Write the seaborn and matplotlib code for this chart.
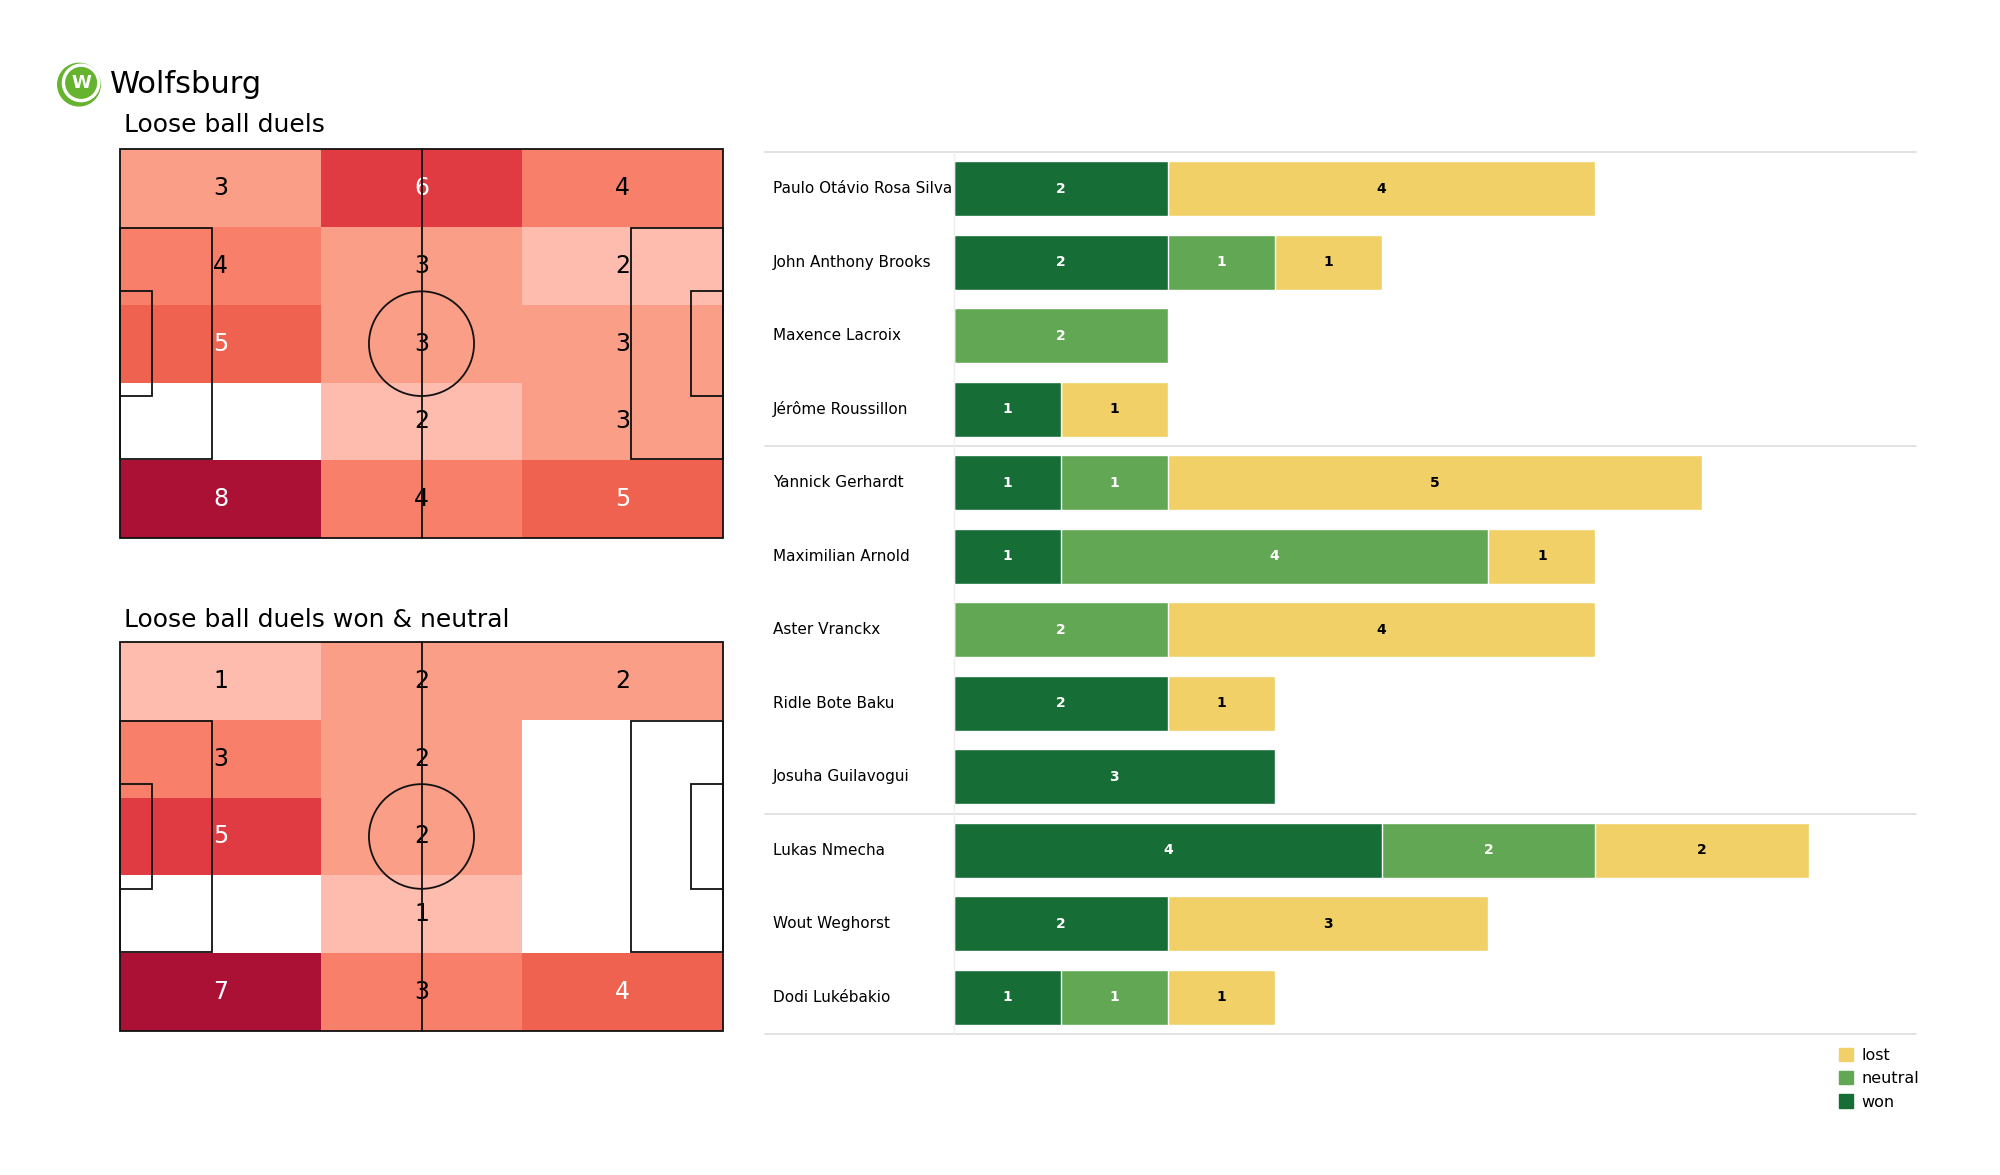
import numpy as np
import pandas as pd
import matplotlib
matplotlib.use("Agg")
import matplotlib.pyplot as plt
import seaborn as sns
from matplotlib.colors import ListedColormap, BoundaryNorm
from matplotlib.patches import Rectangle, Ellipse, Circle, Patch

# heatmap grids (5 rows from top touchline to bottom, 3 columns left to right)
duels = [[3, 6, 4],
         [4, 3, 2],
         [5, 3, 3],
         [0, 2, 3],
         [8, 4, 5]]
duels_won_neutral = [[1, 2, 2],
                     [3, 2, 0],
                     [5, 2, 0],
                     [0, 1, 0],
                     [7, 3, 4]]

# per player duels
players = ["Paulo Otávio Rosa Silva", "John Anthony Brooks", "Maxence Lacroix",
           "Jérôme Roussillon", "Yannick Gerhardt", "Maximilian Arnold",
           "Aster Vranckx", "Ridle Bote Baku", "Josuha Guilavogui",
           "Lukas Nmecha", "Wout Weghorst", "Dodi Lukébakio"]
won = [2, 2, 0, 1, 1, 1, 0, 2, 3, 4, 2, 1]
neutral = [0, 1, 2, 0, 1, 4, 2, 0, 0, 2, 0, 1]
lost = [4, 1, 0, 1, 5, 1, 4, 1, 0, 2, 3, 1]
group_breaks = [4, 9]

heat_colors = ["#ffffff", "#fdbcae", "#fa9e88", "#f8806a", "#f06250", "#e03b42", "#ab1035"]
won_color = "#166d36"
neutral_color = "#62a854"
lost_color = "#f0d067"

sns.set_style("white")
plt.rcParams["font.family"] = ["DejaVu Sans"]
plt.rcParams["text.color"] = "black"

fig = plt.figure(figsize=(20, 11.75), dpi=100)


def draw_pitch_heatmap(ax, grid):
    data = np.array(grid)
    levels = np.unique(data)
    bounds = np.concatenate([[levels[0] - 0.5], (levels[:-1] + levels[1:]) / 2, [levels[-1] + 0.5]])
    cmap = ListedColormap(heat_colors[:len(levels)])
    norm = BoundaryNorm(bounds, cmap.N)
    sns.heatmap(pd.DataFrame(data), ax=ax, cmap=cmap, norm=norm, cbar=False,
                xticklabels=False, yticklabels=False, linewidths=0)
    for r in range(data.shape[0]):
        for c in range(data.shape[1]):
            v = data[r, c]
            if v == 0:
                continue
            rank = np.searchsorted(levels, v)
            ax.text(c + 0.5, r + 0.5, str(v), ha="center", va="center", fontsize=17,
                    color="white" if rank >= 4 else "black")
    # pitch markings in cell coordinates
    sx, sy = 3 / 105, 5 / 68
    kw = dict(fill=False, ec="#111111", lw=1.3, clip_on=False, zorder=3)
    ax.add_patch(Rectangle((0, 0), 105 * sx, 68 * sy, **kw))
    ax.plot([52.5 * sx, 52.5 * sx], [0, 68 * sy], color="#111111", lw=1.3, zorder=3, clip_on=False)
    ax.add_patch(Ellipse((52.5 * sx, 34 * sy), 2 * 9.15 * sx, 2 * 9.15 * sy, **kw))
    for x0, w in [(0, 16), (89, 16)]:
        ax.add_patch(Rectangle((x0 * sx, 13.84 * sy), w * sx, 40.32 * sy, **kw))
    for x0, w in [(0, 5.5), (99.5, 5.5)]:
        ax.add_patch(Rectangle((x0 * sx, 24.84 * sy), w * sx, 18.32 * sy, **kw))
    ax.set_xlim(0, 3)
    ax.set_ylim(5, 0)


ax1 = fig.add_axes([0.06, 0.542, 0.3015, 0.331])
draw_pitch_heatmap(ax1, duels)
ax2 = fig.add_axes([0.06, 0.1226, 0.3015, 0.331])
draw_pitch_heatmap(ax2, duels_won_neutral)

fig.text(0.062, 0.894, "Loose ball duels", fontsize=18, va="center", ha="left")
fig.text(0.062, 0.472, "Loose ball duels won & neutral", fontsize=18, va="center", ha="left")
fig.text(0.055, 0.928, "Wolfsburg", fontsize=22, va="center", ha="left")

# logo
axl = fig.add_axes([0.0205, 0.909, 0.038, 0.038])
axl.set_aspect("equal")
axl.add_patch(Circle((0, 0), 1.0, color="#65b32e"))
axl.add_patch(Circle((0.1, 0.08), 0.88, color="white"))
axl.add_patch(Circle((0.1, 0.08), 0.72, color="#65b32e"))
axl.text(0.1, 0.06, "W", color="white", fontsize=13, fontweight="bold", ha="center", va="center")
axl.set_xlim(-1.05, 1.05)
axl.set_ylim(-1.05, 1.05)
axl.axis("off")

# stacked bars
df = pd.DataFrame({"player": players, "won": won, "neutral": neutral, "lost": lost})
df["won_neutral"] = df["won"] + df["neutral"]
df["total"] = df["won_neutral"] + df["lost"]

axb = fig.add_axes([0.477, 0.12, 0.481, 0.7506])
sns.barplot(data=df, y="player", x="total", color=lost_color, saturation=1, width=0.75,
            orient="h", ax=axb)
sns.barplot(data=df, y="player", x="won_neutral", color=neutral_color, saturation=1, width=0.75,
            orient="h", ax=axb)
sns.barplot(data=df, y="player", x="won", color=won_color, saturation=1, width=0.75,
            orient="h", ax=axb)

for i, row in df.iterrows():
    if row["won"] > 0:
        axb.text(row["won"] / 2, i, str(row["won"]), ha="center", va="center",
                 fontsize=10, fontweight="bold", color="white")
    if row["neutral"] > 0:
        axb.text(row["won"] + row["neutral"] / 2, i, str(row["neutral"]), ha="center", va="center",
                 fontsize=10, fontweight="bold", color="white")
    if row["lost"] > 0:
        axb.text(row["won_neutral"] + row["lost"] / 2, i, str(row["lost"]), ha="center", va="center",
                 fontsize=10, fontweight="bold", color="black")
    axb.text(-0.188, i, row["player"], transform=axb.get_yaxis_transform(),
             ha="left", va="center", fontsize=11)

axb.set_xlim(0, 9)
axb.set_ylim(len(players) - 0.5, -0.5)
axb.set_xlabel("")
axb.set_ylabel("")
axb.set_xticks([])
axb.set_yticks([])
for side in ["top", "right", "bottom"]:
    axb.spines[side].set_visible(False)
axb.spines["left"].set_color("#eeeeee")
axb.spines["left"].set_linewidth(1)

for yb in [-0.5] + [b - 0.5 for b in group_breaks] + [len(players) - 0.5]:
    axb.axhline(yb, xmin=-0.196, xmax=1.0, color="#dddddd", lw=1.2, clip_on=False, zorder=0)

handles = [Patch(color=lost_color, label="lost"),
           Patch(color=neutral_color, label="neutral"),
           Patch(color=won_color, label="won")]
axb.legend(handles=handles, loc="upper right", bbox_to_anchor=(1.003, -0.016), frameon=False,
           fontsize=11.5, handlelength=0.9, handleheight=0.9, handletextpad=0.5,
           labelspacing=0.5, borderpad=0, borderaxespad=0)

fig.savefig("out.png", dpi=100, facecolor="white")
